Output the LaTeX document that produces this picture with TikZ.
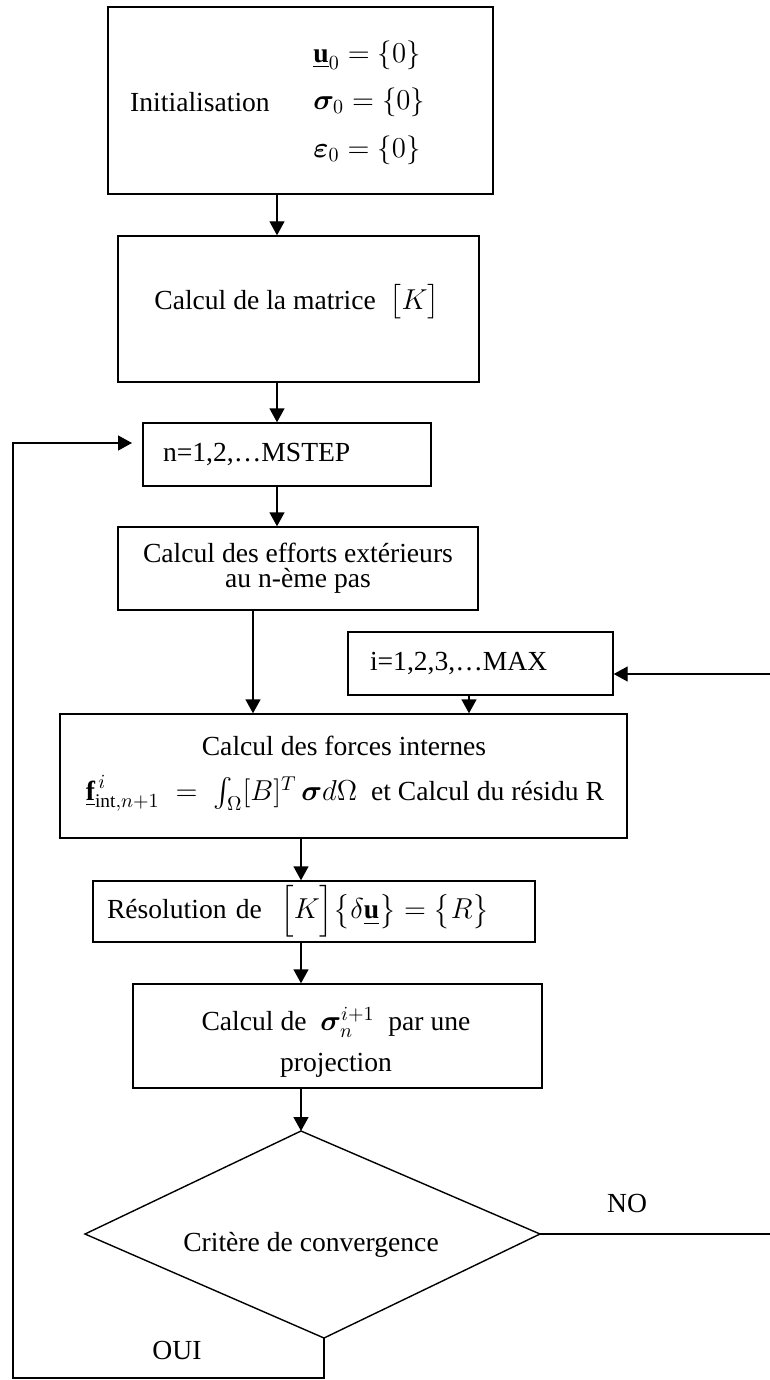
\documentclass[tikz,border=0pt]{standalone}
\usepackage{amsmath,bm}
\usepackage{fontspec}
\setmainfont{Liberation Serif}
\usetikzlibrary{arrows.meta}
\begin{document}
\begin{tikzpicture}[x=0.5pt,y=-0.5pt,
  every node/.style={font=\fontsize{13.8}{15}\selectfont, text=black},
  box/.style={draw, line width=0.7pt, inner sep=0pt},
  arr/.style={line width=0.7pt, -{Triangle[length=7pt,width=7.5pt]}},
  conn/.style={line width=0.7pt},
  lbl/.style={inner sep=0pt}]
\useasboundingbox (0,0) rectangle (770,1380);

% Initialisation
\node[box, minimum width=192.5pt, minimum height=93.5pt] (init) at (300.5,100.5) {};
\node[lbl] (initlbl) at (200,102) {Initialisation};
\node[lbl, anchor=west] (eq1) at (313,55) {$\underline{\mathbf{u}}_0 = \{0\}$};
\node[lbl, anchor=west] (eq2) at (313,102) {$\bm{\sigma}_0 = \{0\}$};
\node[lbl, anchor=west] (eq3) at (313,150) {$\bm{\varepsilon}_0 = \{0\}$};

% K matrix
\node[box, minimum width=180.5pt, minimum height=73pt] (K) at (298.5,309) {};
\node[lbl] (Klbl) at (297,302) {Calcul de la matrice\ \ $\bigl[K\bigr]$};

% MSTEP
\node[box, minimum height=31.5pt, text width=124pt, inner xsep=10pt, align=left] (mstep) at (287,454.5) {n=1,2,…MSTEP};

% efforts
\node[box, minimum width=180pt, minimum height=41.5pt, align=center] (eff) at (298,568.5) {Calcul des efforts extérieurs\\[-2.5pt] au n-ème pas};

% i loop
\node[box, minimum height=31.5pt, text width=110.5pt, inner xsep=11pt, align=left] (ibox) at (480.5,663.5) {i=1,2,3,…MAX};

% forces
\node[box, minimum width=283.5pt, minimum height=62pt] (forces) at (343.5,776) {};
\node[lbl] (flbl1) at (344,746) {Calcul des forces internes};
\node[lbl] (flbl2) at (345,791) {\smash{$\underline{\mathbf{f}}^{\,i}_{\mathrm{int},n+1} \;=\; \int_{\Omega}[B]^T\,\bm{\sigma} d\Omega$}\ \ et Calcul du résidu R};

% resolution
\node[box, minimum height=30.5pt, text width=207pt, inner xsep=7pt, align=left] (resol) at (314,911.5) {Résolution de\ \ $\Bigl[K\Bigr]\bigl\{\delta\underline{\mathbf{u}}\bigr\} = \bigl\{R\bigr\}$};

% sigma projection
\node[box, minimum width=204.5pt, minimum height=52pt] (sig) at (337.5,1036) {};
\node[lbl] (slbl1) at (336,1024) {Calcul de\ \ \smash{$\bm{\sigma}_n^{i+1}$}\ \ par une};
\node[lbl] (slbl2) at (336,1065) {projection};

% diamond
\coordinate (dT) at (301,1131);
\coordinate (dL) at (85,1234);
\coordinate (dB) at (324,1338);
\coordinate (dR) at (540,1234);
\draw[conn] (dT) -- (dR) -- (dB) -- (dL) -- cycle;
\node[lbl] (crit) at (311,1245) {Critère de convergence};

\node[lbl] (nolbl) at (627,1203) {NO};
\node[lbl] (ouilbl) at (177,1350) {OUI};

% connectors
\coordinate (xa) at (277,0);
\coordinate (xb) at (253,0);
\coordinate (xc) at (469,0);
\coordinate (xd) at (301,0);
\draw[arr] (xa |- init.south) -- (xa |- K.north);
\draw[arr] (xa |- K.south) -- (xa |- mstep.north);
\draw[arr] (xa |- mstep.south) -- (xa |- eff.north);
\draw[arr] (xb |- eff.south) -- (xb |- forces.north);
\draw[arr] (xc |- ibox.south) -- (xc |- forces.north);
\coordinate (rin) at (770,674);
\draw[arr] (rin) -- (ibox.east |- rin);
\draw[arr] (xd |- forces.south) -- (xd |- resol.north);
\draw[arr] (xd |- resol.south) -- (xd |- sig.north);
\draw[arr] (xd |- sig.south) -- (dT);
\coordinate (nout) at (770,1234);
\draw[conn] (dR) -- (nout);
\coordinate (lb) at (324,1378);
\coordinate (lc) at (13,1378);
\coordinate (ld) at (13,443);
\coordinate (lin) at (132,443);
\draw[arr] (dB) -- (lb) -- (lc) -- (ld) -- (lin);
\end{tikzpicture}
\end{document}
